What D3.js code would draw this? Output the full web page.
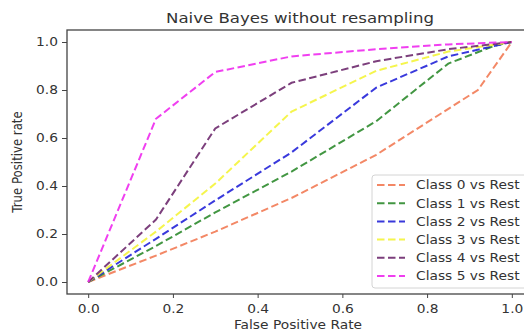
<!DOCTYPE html>
<html lang="en">
  <head>
    <meta charset="utf-8" />
    <title>Naive Bayes without resampling</title>
    <script src="https://d3js.org/d3.v7.min.js"></script>
    <style>
      body { margin: 0; background: #fff; }
      svg text { font-family: "DejaVu Sans", sans-serif; fill: #333; }
    </style>
  </head>
  <body>
    <div id="chart"></div>
    <script>
      // ROC points, one pair of arrays per class
      const classNames = ["Class 0 vs Rest", "Class 1 vs Rest", "Class 2 vs Rest",
        "Class 3 vs Rest", "Class 4 vs Rest", "Class 5 vs Rest"];
      const fpr0 = [0, 0.16, 0.3, 0.48, 0.68, 0.92, 1];
      const tpr0 = [0, 0.11, 0.21, 0.35, 0.53, 0.8, 1];
      const fpr1 = [0, 0.16, 0.3, 0.48, 0.68, 0.85, 0.96, 1];
      const tpr1 = [0, 0.15, 0.29, 0.46, 0.67, 0.91, 0.985, 1];
      const fpr2 = [0, 0.16, 0.3, 0.48, 0.68, 0.85, 1];
      const tpr2 = [0, 0.18, 0.34, 0.54, 0.81, 0.94, 1];
      const fpr3 = [0, 0.16, 0.3, 0.48, 0.68, 0.85, 1];
      const tpr3 = [0, 0.21, 0.41, 0.71, 0.88, 0.96, 1];
      const fpr4 = [0, 0.16, 0.3, 0.48, 0.68, 0.85, 1];
      const tpr4 = [0, 0.26, 0.64, 0.83, 0.92, 0.97, 1];
      const fpr5 = [0, 0.16, 0.3, 0.48, 0.68, 0.85, 1];
      const tpr5 = [0, 0.68, 0.875, 0.94, 0.97, 0.99, 1];
      const tickValues = [0, 0.2, 0.4, 0.6, 0.8, 1.0];

      const lineColors = ["#f27b55", "#2e8b2e", "#2424d8", "#f4f43a", "#6e2a6e", "#ee2aee"];

      const allFpr = [fpr0, fpr1, fpr2, fpr3, fpr4, fpr5];
      const allTpr = [tpr0, tpr1, tpr2, tpr3, tpr4, tpr5];
      const series = classNames.map((name, i) => ({
        name: name,
        color: lineColors[i],
        values: allFpr[i].map((f, j) => ({ x: f, y: allTpr[i][j] })),
      }));

      const W = 524, H = 336;
      const sq = 0.85; // picture is squashed vertically
      const fs = 13.8;

      const svg = d3.select("#chart").append("svg")
        .attr("width", W).attr("height", H);

      const x = d3.scaleLinear().domain([-0.05, 1.05]).range([67, 533]);
      const y = d3.scaleLinear().domain([-0.05, 1.05]).range([294, 30]);

      // frame
      svg.append("rect")
        .attr("x", x.range()[0]).attr("y", y.range()[1])
        .attr("width", x.range()[1] - x.range()[0])
        .attr("height", y.range()[0] - y.range()[1])
        .attr("fill", "none").attr("stroke", "#444").attr("stroke-width", 1.3);

      // axes
      const yAxis = svg.append("g")
        .attr("transform", `translate(${x.range()[0]},0)`)
        .call(d3.axisLeft(y).tickValues(tickValues).tickFormat(d3.format(".1f"))
          .tickSize(5).tickPadding(4));
      yAxis.select(".domain").remove();
      yAxis.selectAll("line").attr("stroke", "#444");
      yAxis.selectAll("text")
        .attr("font-size", fs)
        .attr("transform", `scale(1,${sq})`);

      const xAxis = svg.append("g")
        .attr("transform", `translate(0,${y.range()[0]})`)
        .call(d3.axisBottom(x).tickValues(tickValues).tickFormat(d3.format(".1f"))
          .tickSize(4));
      xAxis.select(".domain").remove();
      xAxis.selectAll("line").attr("stroke", "#444");
      xAxis.selectAll("text")
        .attr("font-size", fs)
        .attr("y", 13)
        .attr("transform", `scale(1,${sq})`);

      // lines
      const line = d3.line().x((d) => x(d.x)).y((d) => y(d.y));
      series.forEach((s) => {
        svg.append("path")
          .datum(s.values)
          .attr("d", line)
          .attr("fill", "none")
          .attr("stroke", s.color)
          .attr("stroke-width", 2)
          .attr("stroke-dasharray", "7.5,3.5")
          .attr("opacity", 0.9);
      });

      // squashed text helper
      function label(px, py, txt, size, anchor, rot) {
        const t = rot
          ? `translate(${px},${py}) rotate(-90) scale(${sq},1)`
          : `translate(${px},${py}) scale(1,${sq})`;
        svg.append("text")
          .attr("transform", t)
          .attr("font-size", size)
          .attr("text-anchor", anchor)
          .text(txt);
      }

      label(300, 23, "Naive Bayes without resampling", 16.6, "middle");
      label(298, 329, "False Positive Rate", fs, "middle");
      label(22, 162, "True Positive rate", fs, "middle", true);

      // legend
      const lg = svg.append("g");
      lg.append("rect")
        .attr("x", 372).attr("y", 175).attr("width", 160).attr("height", 113)
        .attr("rx", 3).attr("fill", "#fff").attr("fill-opacity", 0.8)
        .attr("stroke", "#d4d4d4");
      series.forEach((s, i) => {
        const cy = 185 + i * 18.2;
        lg.append("line")
          .attr("x1", 377).attr("x2", 405).attr("y1", cy).attr("y2", cy)
          .attr("stroke", s.color).attr("stroke-width", 2)
          .attr("stroke-dasharray", "7.5,3.5").attr("opacity", 0.9);
        label(416, cy + 4.3, s.name, fs, "start");
      });
    </script>
  </body>
</html>
